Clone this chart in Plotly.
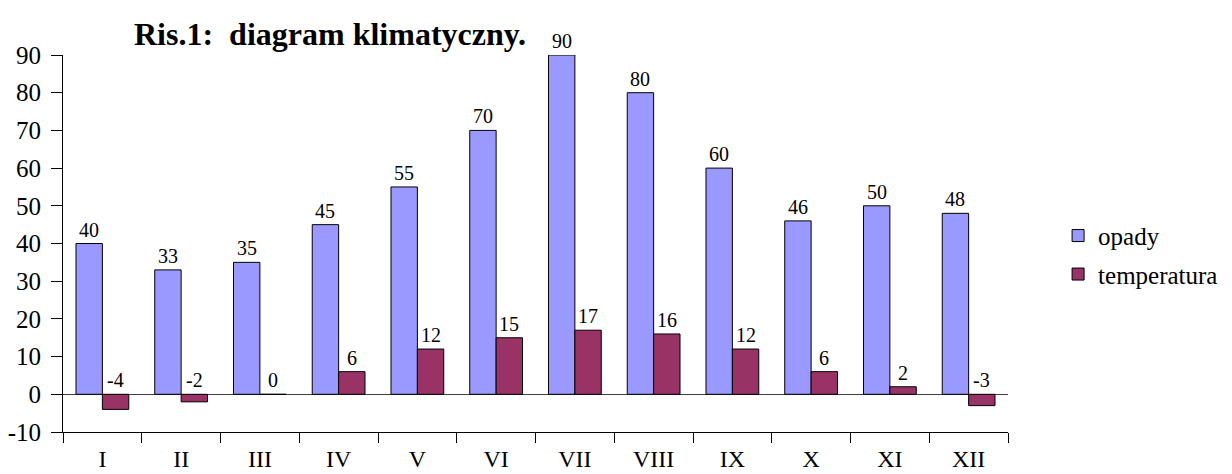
import plotly.graph_objects as go

months = ["I", "II", "III", "IV", "V", "VI", "VII", "VIII", "IX", "X", "XI", "XII"]
opady = [40, 33, 35, 45, 55, 70, 90, 80, 60, 46, 50, 48]
temperatura = [-4, -2, 0, 6, 12, 15, 17, 16, 12, 6, 2, -3]
y_ticks = [-10, 0, 10, 20, 30, 40, 50, 60, 70, 80, 90]
y_tick_labels = [str(v) for v in y_ticks]

FONT = "Times New Roman, Liberation Serif, serif"

fig = go.Figure()
fig.add_trace(go.Bar(x=months, y=opady, name="opady", legendgroup="a",
                     marker=dict(color="#9999FF", line=dict(color="#000000", width=1))))
fig.add_trace(go.Bar(x=months, y=temperatura, name="temperatura", legendgroup="b",
                     marker=dict(color="#993366", line=dict(color="#000000", width=1))))

annotations = []
for series, shift in ((opady, -13.3), (temperatura, 13.3)):
    for m, v in zip(months, series):
        annotations.append(dict(x=m, y=max(v, 0), text=str(v), showarrow=False,
                                xshift=shift, yanchor="bottom", yshift=1,
                                font=dict(family=FONT, size=20, color="black")))

annotations.append(dict(x=0.283, y=1.0, xref="paper", yref="paper",
                        xanchor="center", yanchor="bottom", yshift=1,
                        text="<b>Ris.1:  diagram klimatyczny.</b>", showarrow=False,
                        font=dict(family=FONT, size=32, color="black")))

fig.update_layout(
    width=1224, height=466,
    margin=dict(l=55, r=224, t=47, b=42, autoexpand=False),
    paper_bgcolor="white", plot_bgcolor="white",
    barmode="group", bargap=0.33, bargroupgap=0,
    font=dict(family=FONT, color="black"),
    showlegend=True,
    legend=dict(x=1.053, y=0.47, xanchor="left", yanchor="middle",
                font=dict(family=FONT, size=25, color="black"),
                traceorder="grouped", tracegroupgap=3,
                bgcolor="rgba(0,0,0,0)"),
    annotations=annotations,
    xaxis=dict(showline=True, linecolor="black", linewidth=1, ticks="outside",
               tickson="boundaries", ticklen=10, tickcolor="black",
               tickfont=dict(family=FONT, size=24, color="black"), ticklabelstandoff=5,
               showgrid=False, fixedrange=True, automargin=False),
    yaxis=dict(range=[-10, 90], tickmode="array", tickvals=y_ticks, ticktext=y_tick_labels,
               showline=True, linecolor="black", linewidth=1,
               ticks="outside", ticklen=11, tickcolor="black", ticklabelstandoff=5,
               tickfont=dict(family=FONT, size=25, color="black"), showgrid=False, automargin=False,
               zeroline=True, zerolinecolor="#404040", zerolinewidth=1),
)

fig.write_html("out.html")
